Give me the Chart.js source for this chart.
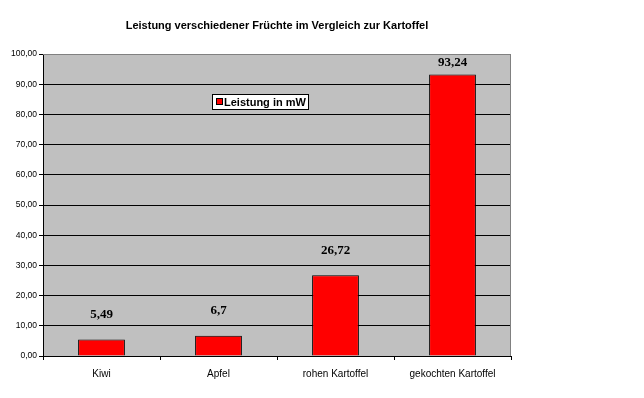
<!DOCTYPE html>
<html>
<head>
<meta charset="utf-8">
<script src="https://cdn.jsdelivr.net/npm/chart.js@4"></script>
<style>
  html, body { margin: 0; padding: 0; background: #fff; }
  #wrap { width: 644px; height: 398px; }
</style>
</head>
<body>
<div id="wrap"><canvas id="chart" width="644" height="398"></canvas></div>
<script>
const categories = ["Kiwi", "Apfel", "rohen Kartoffel", "gekochten Kartoffel"];
const leistung = [5.49, 6.7, 26.72, 93.24];
const valueLabels = ["5,49", "6,7", "26,72", "93,24"];
const seriesName = "Leistung in mW";
const chartTitle = "Leistung verschiedener Früchte im Vergleich zur Kartoffel";

// gray plot background and borders
const plotArea = {
    id: "plotArea",
    beforeDraw(chart) {
        const { ctx, chartArea: a } = chart;
        ctx.save();
        ctx.fillStyle = "#c0c0c0";
        ctx.fillRect(a.left, a.top, a.right - a.left, a.bottom - a.top);
        ctx.restore();
    },
    afterDatasetsDraw(chart) {
        const { ctx, chartArea: a } = chart;
        ctx.save();
        ctx.strokeStyle = "#808080";
        ctx.lineWidth = 1;
        ctx.beginPath();
        ctx.moveTo(a.left, a.top + 0.5);
        ctx.lineTo(a.right - 0.5, a.top + 0.5);
        ctx.lineTo(a.right - 0.5, a.bottom);
        ctx.stroke();
        ctx.restore();
    }
};

// title, value labels and legend box
const extras = {
    id: "extras",
    afterDraw(chart) {
        const { ctx, chartArea: a } = chart;
        ctx.save();
        ctx.fillStyle = "#000";
        ctx.textAlign = "center";
        ctx.textBaseline = "middle";
        ctx.font = "bold 11px 'Liberation Sans', Arial, sans-serif";
        ctx.fillText(chartTitle, (a.left + a.right) / 2, 26);

        ctx.font = "bold 13px 'Liberation Serif', 'Times New Roman', serif";
        const meta = chart.getDatasetMeta(0);
        meta.data.forEach((bar, i) => {
            const y = Math.max(bar.y - 25, a.top + 9);
            ctx.fillText(valueLabels[i], bar.x, y);
        });

        // legend
        const lx = 212, ly = 94, lw = 97, lh = 16;
        ctx.fillStyle = "#fff";
        ctx.fillRect(lx, ly, lw, lh);
        ctx.strokeStyle = "#000";
        ctx.lineWidth = 1;
        ctx.strokeRect(lx + 0.5, ly + 0.5, lw - 1, lh - 1);
        ctx.fillStyle = "#ff0000";
        ctx.fillRect(216, 98, 7, 7);
        ctx.strokeRect(216.5, 98.5, 6, 6);
        ctx.fillStyle = "#000";
        ctx.textAlign = "left";
        ctx.font = "bold 11px 'Liberation Sans', Arial, sans-serif";
        ctx.fillText(seriesName, 224, 102.5);
        ctx.restore();
    }
};

new Chart(document.getElementById("chart"), {
    type: "bar",
    data: {
        labels: categories,
        datasets: [{
            label: seriesName,
            data: leistung,
            backgroundColor: "#ff0000",
            borderColor: "#000",
            borderWidth: 1,
            barPercentage: 0.4,
            categoryPercentage: 1.0
        }]
    },
    options: {
        responsive: false,
        animation: false,
        layout: { padding: { top: 54, right: 133, left: 0, bottom: 0 } },
        plugins: {
            legend: { display: false },
            tooltip: { enabled: false },
            title: { display: false }
        },
        scales: {
            x: {
                afterFit: s => { s.height = 42; },
                grid: { offset: true, drawOnChartArea: false, drawTicks: true, tickLength: 4, color: "#000" },
                border: { color: "#000", width: 1 },
                ticks: { color: "#000", padding: 8, font: { family: "'Liberation Sans', Arial, sans-serif", size: 10 } }
            },
            y: {
                min: 0,
                max: 100,
                afterFit: s => { s.width = 43; },
                grid: {
                    color: c => (c.tick && c.tick.value === 100 ? "#808080" : "#000"),
                    tickColor: "#000",
                    tickLength: 4,
                    lineWidth: 1
                },
                border: { color: "#000", width: 1 },
                ticks: {
                    stepSize: 10,
                    color: "#000",
                    padding: 2,
                    font: { family: "'Liberation Sans', Arial, sans-serif", size: 8.5 },
                    callback: v => v.toFixed(2).replace(".", ",")
                }
            }
        }
    },
    plugins: [plotArea, extras]
});
</script>
</body>
</html>
